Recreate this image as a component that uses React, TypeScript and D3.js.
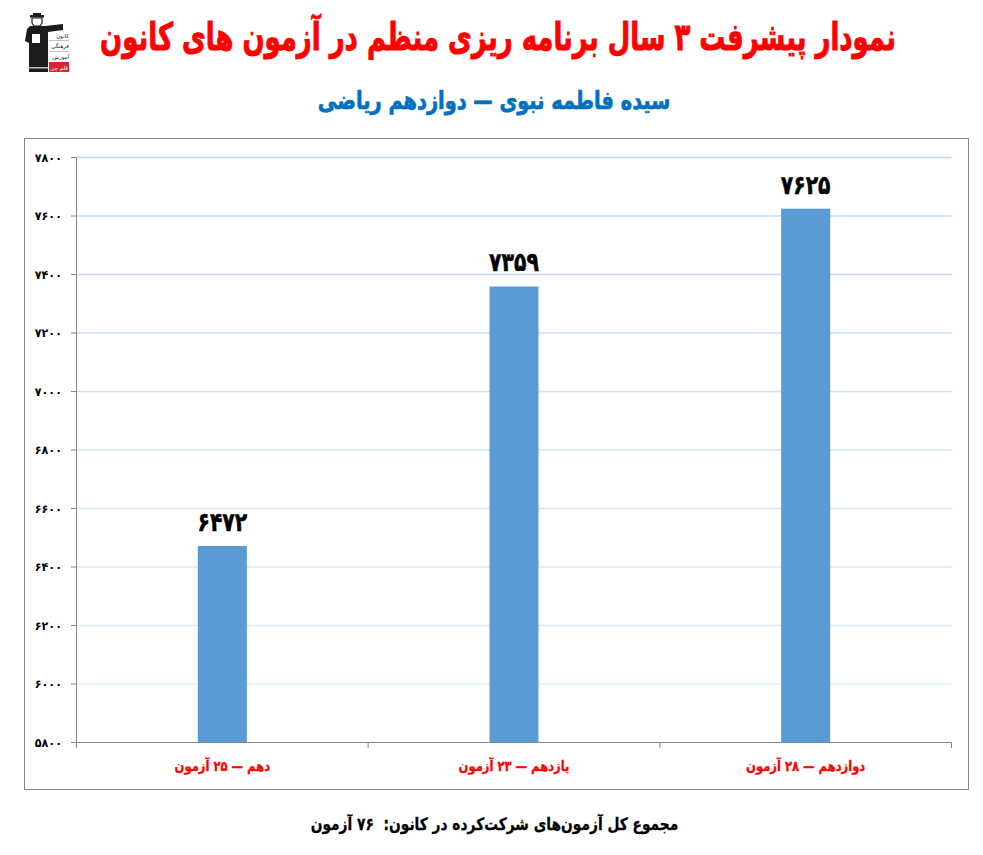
import { interpolateRgb, range, scaleBand, scaleLinear } from "d3";

const categories = ["دهم — ۲۵ آزمون", "یازدهم — ۲۳ آزمون", "دوازدهم — ۲۸ آزمون"];
const scores = [6472, 7359, 7625];
const yTicks = [5800, 6000, 6200, 6400, 6600, 6800, 7000, 7200, 7400, 7600, 7800];
const titleText = "نمودار پیشرفت ۳ سال برنامه ریزی منظم در آزمون های کانون";
const subtitleText = "سیده فاطمه نبوی — دوازدهم ریاضی";
const footerText = "مجموع کل آزمون‌های شرکت‌کرده در کانون:  ۷۶ آزمون";

const font = "'DejaVu Sans', 'Noto Sans', sans-serif";
const toPersian = (n: number) => String(n).replace(/\d/g, (d) => "۰۱۲۳۴۵۶۷۸۹"[+d]);

const left = 76.5;
const right = 951.5;
const top = 157.5;
const bottom = 742.5;

function Logo() {
  return (
    <g>
      <rect x={30} y={15} width={14} height={2.5} fill="#1c1c1c" />
      <rect x={33} y={13} width={8} height={3} fill="#1c1c1c" />
      <path d="M32 18h10v5l-2 3h-6l-2-3z" fill="none" stroke="#1c1c1c" strokeWidth={1.2} />
      <path d="M30 26h15l18-2v6l-15 2v40H29V43l-4-2 2-12z" fill="#1c1c1c" />
      <rect x={32} y={34} width={8} height={9} fill="#fff" />
      <rect x={29} y={67} width={19} height={1.5} fill="#bbb" />
      <g fontFamily={font} fontSize={5.5} fill="#222" textAnchor="start" direction="rtl">
        <text x={69} y={38}>کانون</text>
        <text x={69} y={48}>فرهنگی</text>
        <text x={69} y={59}>آموزش</text>
      </g>
      <rect x={49} y={40} width={20} height={0.7} fill="#aaa" />
      <rect x={49} y={51} width={20} height={0.7} fill="#aaa" />
      <rect x={49} y={62} width={20} height={10} fill="#d8232f" />
      <text x={59} y={69.5} fontFamily={font} fontSize={5.5} fill="#fff" textAnchor="middle" direction="rtl">قلم چی</text>
    </g>
  );
}

export default function App() {
  const x = scaleBand<string>().domain(categories).range([left, right]).paddingInner(0.832).paddingOuter(0.416);
  const y = scaleLinear().domain([5800, 7800]).range([bottom, top]);
  const gridColor = interpolateRgb("#bcd6f2", "#e6eef9");

  return (
    <svg width={983} height={855} viewBox="0 0 983 855" style={{ position: "absolute", left: 0, top: 0, background: "#fff" }}>
      <Logo />
      <text
        transform="translate(498,50) scale(0.682,1)"
        textAnchor="middle"
        direction="rtl"
        fontFamily={font}
        fontWeight="bold"
        fontSize={38}
        fill="#ff0000"
        stroke="#ff0000"
        strokeWidth={1}
      >
        {titleText}
      </text>
      <text
        transform="translate(494,109) scale(0.774,1)"
        textAnchor="middle"
        direction="rtl"
        fontFamily={font}
        fontWeight="bold"
        fontSize={25}
        fill="#0070c0"
        stroke="#0070c0"
        strokeWidth={0.7}
      >
        {subtitleText}
      </text>

      <rect x={24.5} y={138.5} width={944} height={651} fill="#fff" stroke="#868686" />

      {yTicks.slice(1).map((tick, i) => (
        <line
          key={tick}
          x1={left}
          x2={right}
          y1={y(tick)}
          y2={y(tick)}
          stroke={gridColor(1 - (i + 1) / (yTicks.length - 1))}
          strokeWidth={1.4}
        />
      ))}

      {categories.map((cat, i) => (
        <rect key={cat} x={x(cat)} y={y(scores[i])} width={x.bandwidth()} height={bottom - y(scores[i])} fill="#5b9bd5" />
      ))}

      <line x1={left} x2={left} y1={top} y2={bottom} stroke="#868686" />
      <line x1={left} x2={right} y1={bottom} y2={bottom} stroke="#868686" />
      {yTicks.map((tick) => (
        <g key={tick}>
          <line x1={71} x2={left} y1={y(tick)} y2={y(tick)} stroke="#868686" />
          <text
            transform={`translate(62,${y(tick) + 4}) scale(0.93,1)`}
            textAnchor="end"
            fontFamily={font}
            fontWeight="bold"
            fontSize={12}
            fill="#000"
          >
            {toPersian(tick)}
          </text>
        </g>
      ))}
      {range(categories.length + 1).map((i) => (
        <line key={i} x1={left + i * x.step()} x2={left + i * x.step()} y1={bottom} y2={748} stroke="#868686" />
      ))}

      {categories.map((cat, i) => {
        const cx = x(cat)! + x.bandwidth() / 2;
        return (
          <g key={cat}>
            <text
              transform={`translate(${cx},${y(scores[i]) - 15}) scale(0.785,1)`}
              textAnchor="middle"
              fontFamily={font}
              fontWeight="bold"
              fontSize={26}
              fill="#000"
              stroke="#000"
              strokeWidth={0.5}
            >
              {toPersian(scores[i])}
            </text>
            <text
              transform={`translate(${cx},771) scale(0.825,1)`}
              textAnchor="middle"
              direction="rtl"
              fontFamily={font}
              fontWeight="bold"
              fontSize={14}
              fill="#ff0000"
              stroke="#ff0000"
              strokeWidth={0.3}
            >
              {cat}
            </text>
          </g>
        );
      })}

      <text
        transform="translate(494.5,830) scale(0.811,1)"
        textAnchor="middle"
        direction="rtl"
        fontFamily={font}
        fontWeight="bold"
        fontSize={17}
        fill="#000"
        stroke="#000"
        strokeWidth={0.3}
        style={{ whiteSpace: "pre" }}
      >
        {footerText}
      </text>
    </svg>
  );
}
